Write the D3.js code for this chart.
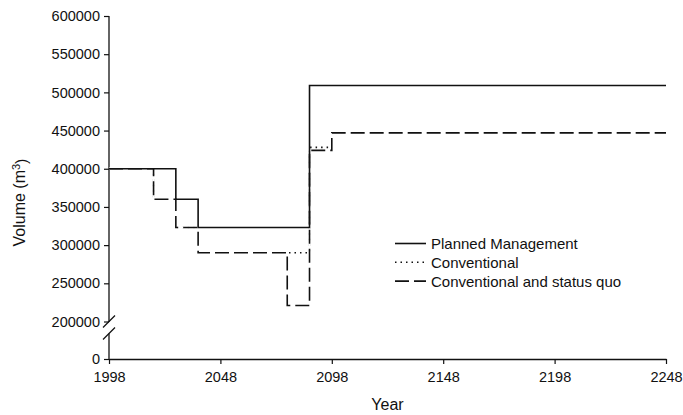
<!DOCTYPE html>
<html>
<head>
<meta charset="utf-8">
<script src="https://cdn.jsdelivr.net/npm/d3@7"></script>
<style>
  body { margin: 0; background: #fff; }
  text { font-family: "Liberation Sans", Arial, sans-serif; fill: #111; }
</style>
</head>
<body>
<svg id="chart" width="683" height="415"></svg>
<script>
// ---- data ----
const xTicks = [1998, 2048, 2098, 2148, 2198, 2248];
const yTicks = [0, 200000, 250000, 300000, 350000, 400000, 450000, 500000, 550000, 600000];

const plannedYears  = [1998, 2028, 2038, 2088, 2248];
const plannedValues = [400000, 360000, 323000, 509000, 509000];

const conventionalYears  = [1998, 2018, 2028, 2038, 2088, 2098, 2248];
const conventionalValues = [400000, 360000, 323000, 290000, 428000, 447000, 447000];

const statusQuoYears  = [1998, 2018, 2028, 2038, 2078, 2088, 2098, 2248];
const statusQuoValues = [400000, 360000, 323000, 290000, 221000, 424000, 447000, 447000];

const seriesNames = ["Planned Management", "Conventional", "Conventional and status quo"];

// ---- layout ----
const svg = d3.select("#chart");
const mLeft = 109, mRight = 666, mTop = 16, mBottom = 359, breakY = 321.5;

const x = d3.scaleLinear().domain([1998, 2248]).range([mLeft, mRight]);
// broken axis: 0 sits below the break, 200000..600000 linear above
const y = d3.scaleLinear().domain([0, 200000, 600000]).range([mBottom, breakY, mTop]);

const styles = [
  { dash: null, w: 1.6 },
  { dash: "1.5,4", w: 1.6 },
  { dash: "14,5", w: 1.6 }
];

// ---- axes ----
const xAxis = d3.axisBottom(x).tickValues(xTicks).tickFormat(d3.format("d")).tickSize(5).tickSizeOuter(0);
const gx = svg.append("g").attr("transform", `translate(0,${mBottom})`).call(xAxis);
gx.select(".domain").attr("stroke", "#111").attr("stroke-width", 1.3);
gx.selectAll(".tick line").attr("stroke", "#111").attr("stroke-width", 1.2);
gx.selectAll(".tick text").attr("font-size", "14.5px").attr("dy", "1.05em")
  .style("font-family", '"Liberation Sans", Arial, sans-serif').attr("fill", "#111");

const yAxis = d3.axisLeft(y).tickValues(yTicks).tickFormat(d3.format("d")).tickSize(5).tickSizeOuter(0);
const gy = svg.append("g").attr("transform", `translate(${mLeft},0)`).call(yAxis);
gy.select(".domain").remove();
gy.selectAll(".tick line").attr("stroke", "#111").attr("stroke-width", 1.2);
gy.selectAll(".tick text").attr("font-size", "14.5px").attr("x", -9)
  .style("font-family", '"Liberation Sans", Arial, sans-serif').attr("fill", "#111");

// y axis line with break
const axisG = svg.append("g").attr("stroke", "#111").attr("stroke-width", 1.3).attr("fill", "none");
axisG.append("line").attr("x1", mLeft).attr("x2", mLeft).attr("y1", y(600000)).attr("y2", y(200000) + 0.5);
axisG.append("line").attr("x1", mLeft).attr("x2", mLeft).attr("y1", y(200000) + 12).attr("y2", y(0));
// break slashes
axisG.append("line").attr("x1", mLeft - 6).attr("y1", breakY + 6).attr("x2", mLeft + 6).attr("y2", breakY - 6);
axisG.append("line").attr("x1", mLeft - 6).attr("y1", breakY + 18).attr("x2", mLeft + 6).attr("y2", breakY + 6);

// ---- series ----
const line = d3.line().x(d => x(d[0])).y(d => y(d[1])).curve(d3.curveStepAfter);
const series = [
  d3.zip(plannedYears, plannedValues),
  d3.zip(conventionalYears, conventionalValues),
  d3.zip(statusQuoYears, statusQuoValues)
];
// conventional (dotted) first
svg.append("path").datum(series[1]).attr("d", line)
  .attr("fill", "none").attr("stroke", "#111")
  .attr("stroke-width", styles[1].w).attr("stroke-dasharray", styles[1].dash);
// status quo: white underlay so overlapping dots don't show in the dash gaps
svg.append("path").datum(series[2]).attr("d", line)
  .attr("fill", "none").attr("stroke", "#fff").attr("stroke-width", 2.4);
svg.append("path").datum(series[2]).attr("d", line)
  .attr("fill", "none").attr("stroke", "#111")
  .attr("stroke-width", styles[2].w).attr("stroke-dasharray", styles[2].dash);
// planned (solid) on top
svg.append("path").datum(series[0]).attr("d", line)
  .attr("fill", "none").attr("stroke", "#111").attr("stroke-width", styles[0].w);

// ---- legend ----
const legend = svg.append("g");
seriesNames.forEach((name, i) => {
  const ly = 243.5 + i * 18.8;
  legend.append("line").attr("x1", 395).attr("x2", 426).attr("y1", ly).attr("y2", ly)
    .attr("stroke", "#111").attr("stroke-width", 1.6).attr("stroke-dasharray", styles[i].dash);
  legend.append("text").attr("x", 431).attr("y", ly).attr("dy", "0.36em")
    .attr("font-size", "15px").text(name);
});

// ---- axis titles ----
svg.append("text").attr("x", (mLeft + mRight) / 2).attr("y", 410)
  .attr("text-anchor", "middle").attr("font-size", "16px").text("Year");

const yt = svg.append("text")
  .attr("transform", `translate(25,${(mTop + mBottom) / 2 + 15}) rotate(-90)`)
  .attr("text-anchor", "middle").attr("font-size", "16px");
yt.append("tspan").text("Volume (m");
yt.append("tspan").attr("dy", "-0.45em").attr("font-size", "11px").text("3");
yt.append("tspan").attr("dy", "0.45em").text(")");
</script>
</body>
</html>
